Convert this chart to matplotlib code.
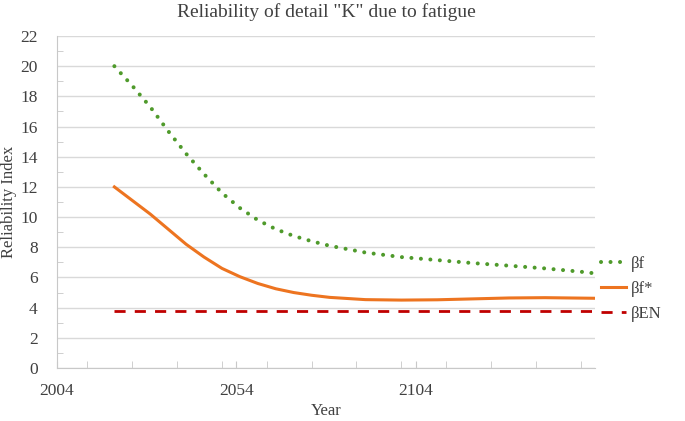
import matplotlib
matplotlib.use("Agg")
import matplotlib.pyplot as plt
from matplotlib.ticker import MultipleLocator, FixedLocator

# values
years_f = [2020, 2025, 2030, 2035, 2040, 2045, 2050, 2055, 2060, 2065, 2070,
           2075, 2080, 2090, 2100, 2110, 2120, 2130, 2140, 2150, 2154]
beta_f = [20.0, 18.7, 17.3, 15.7, 14.2, 12.85, 11.6, 10.6, 9.8, 9.2, 8.75,
          8.4, 8.1, 7.65, 7.35, 7.15, 6.95, 6.78, 6.6, 6.38, 6.27]

years_fs = [2020, 2025, 2030, 2035, 2040, 2045, 2050, 2055, 2060, 2065, 2070,
            2075, 2080, 2090, 2100, 2110, 2120, 2130, 2140, 2154]
beta_fs = [12.0, 11.1, 10.2, 9.2, 8.2, 7.35, 6.6, 6.05, 5.6, 5.25, 5.0,
           4.82, 4.68, 4.53, 4.5, 4.52, 4.58, 4.64, 4.66, 4.62]

years_en = [2020, 2154]
beta_en = [3.8, 3.8]

x_labels = [2004, 2054, 2104]

plt.rcParams['font.family'] = ['Liberation Serif', 'DejaVu Serif']

fig = plt.figure(figsize=(6.85, 4.21), dpi=100)
ax = fig.add_axes([0.0832, 0.1259, 0.7854, 0.7886])

ax.plot(years_f, beta_f, color='#4f9a2b', linewidth=2.9,
        linestyle=(0, (0.01, 2.35)), dash_capstyle='round', label='βf')
ax.plot(years_fs, beta_fs, color='#ed7420', linewidth=2.2, label='βf*')
ax.plot(years_en, beta_en, color='#c00000', linewidth=2.0,
        linestyle=(0, (4, 3.3)), label='βEN')

ax.set_xlim(2004, 2154)
ax.set_ylim(0, 22)
ax.xaxis.set_major_locator(FixedLocator(x_labels))
ax.xaxis.set_minor_locator(MultipleLocator(12.5))
ax.yaxis.set_major_locator(MultipleLocator(2))
ax.yaxis.set_minor_locator(MultipleLocator(1))
ax.grid(axis='y', which='major', color='#d9d9d9', linewidth=1)
ax.set_axisbelow(True)

for s in ['top', 'right']:
    ax.spines[s].set_visible(False)
for s in ['left', 'bottom']:
    ax.spines[s].set_color('#c8c8c8')

ax.tick_params(axis='both', which='both', direction='in', color='#c8c8c8',
               labelsize=12.5, labelcolor='#404040')
ax.tick_params(axis='x', which='major', length=5, pad=11)
ax.tick_params(axis='x', which='minor', length=5)
ax.tick_params(axis='y', which='major', length=0, pad=14)
ax.tick_params(axis='y', which='minor', length=4)

ax.set_xlabel('Year', fontsize=12, color='#404040', labelpad=3)
ax.set_ylabel('Reliability Index', fontsize=12, color='#404040', labelpad=2)
ax.set_title('Reliability of detail "K" due to fatigue', fontsize=14,
             color='#404040', pad=14)

fig.legend(loc='upper left', bbox_to_anchor=(0.855, 0.428), frameon=False,
           fontsize=12, handlelength=1.5, handletextpad=0.3,
           labelspacing=0.55, labelcolor='#404040')

fig.savefig('out.png', dpi=100)
